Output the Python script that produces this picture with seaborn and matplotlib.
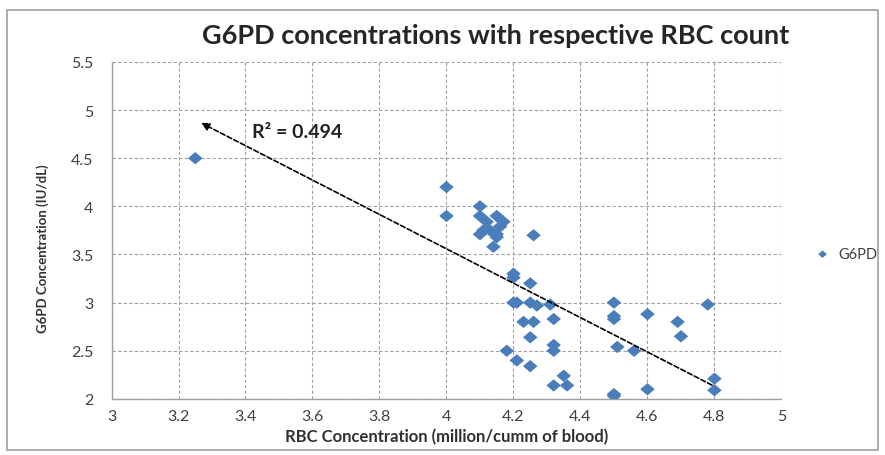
import numpy as np
import pandas as pd
import matplotlib
matplotlib.use('Agg')
import matplotlib.pyplot as plt
from matplotlib.patches import Rectangle
import seaborn as sns

# values
rbc = [3.25,
       4.0, 4.0, 4.1, 4.1, 4.15, 4.12, 4.17, 4.16, 4.11, 4.1, 4.13, 4.15, 4.15, 4.14, 4.26,
       4.2, 4.2, 4.25, 4.2, 4.21, 4.25, 4.27, 4.31, 4.23, 4.26, 4.32, 4.25, 4.32,
       4.18, 4.32, 4.21, 4.25, 4.35, 4.32, 4.36,
       4.5, 4.5, 4.5, 4.6, 4.78, 4.69, 4.7, 4.51, 4.56, 4.8, 4.8, 4.6, 4.5, 4.5]
g6pd = [4.5,
        4.2, 3.9, 4.0, 3.9, 3.9, 3.84, 3.84, 3.79, 3.75, 3.71, 3.75, 3.71, 3.68, 3.58, 3.7,
        3.3, 3.26, 3.2, 3.0, 3.0, 3.0, 2.97, 2.98, 2.8, 2.8, 2.83, 2.64, 2.56,
        2.5, 2.5, 2.4, 2.34, 2.24, 2.14, 2.14,
        3.0, 2.86, 2.83, 2.88, 2.98, 2.8, 2.65, 2.54, 2.5, 2.21, 2.09, 2.1, 2.05, 2.03]

# arrow drawn over the points (tail, head)
arrow_tail = (4.8, 2.13)
arrow_head = (3.26, 4.88)
r2_text = 'R² = 0.494'
r2_pos = (3.42, 4.78)

x_ticks = [3, 3.2, 3.4, 3.6, 3.8, 4, 4.2, 4.4, 4.6, 4.8, 5]
y_ticks = [2, 2.5, 3, 3.5, 4, 4.5, 5, 5.5]

df = pd.DataFrame({'rbc': rbc, 'g6pd': g6pd})

sns.set_style('white')
plt.rcParams['font.family'] = ['Lato', 'DejaVu Sans']

fig = plt.figure(figsize=(8.85, 4.56), dpi=100)
ax = fig.add_axes([0.126, 0.123, 0.757, 0.739])

diamond = [(-1, 0), (0, 0.85), (1, 0), (0, -0.85), (-1, 0)]
sns.scatterplot(data=df, x='rbc', y='g6pd', marker=diamond, s=110,
                color='#4A7EBB', edgecolor='none', label='G6PD', ax=ax, zorder=3)

ax.set_xlim(3, 5)
ax.set_ylim(2, 5.5)
ax.set_xticks(x_ticks)
ax.set_yticks(y_ticks)
ax.set_xticklabels(['{:g}'.format(t) for t in x_ticks])
ax.set_yticklabels(['{:g}'.format(t) for t in y_ticks])
ax.tick_params(axis='both', colors='#888888', labelcolor='#404040', labelsize=11.5,
               length=4, direction='out', width=0.8)
ax.tick_params(axis='y', pad=9)
ax.grid(True, linestyle=(0, (3, 2)), color='#A0A0A0', linewidth=0.8)
for s in ['top', 'right']:
    ax.spines[s].set_visible(False)
for s in ['left', 'bottom']:
    ax.spines[s].set_color('#A0A0A0')
    ax.spines[s].set_linewidth(1.0)

ax.set_xlabel('RBC Concentration (million/cumm of blood)', fontsize=12,
              fontweight='bold', color='#303030', labelpad=3)
ax.set_ylabel('G6PD Concentration (IU/dL)', fontsize=9.5, fontweight='bold',
              color='#303030')
ax.yaxis.set_label_coords(-0.093, 0.45)

ax.annotate('', xy=arrow_head, xytext=arrow_tail,
            arrowprops=dict(arrowstyle='-|>', color='black', lw=1.2,
                            linestyle=(0, (3, 1.5)), mutation_scale=12))
ax.text(r2_pos[0], r2_pos[1], r2_text, fontsize=14, fontweight='bold', color='#202020',
        va='center', ha='left')

leg = ax.legend(loc='center left', bbox_to_anchor=(1.02, 0.43), frameon=False,
                fontsize=10.5, handletextpad=0.1, markerscale=0.6)
for t in leg.get_texts():
    t.set_color('#404040')

fig.suptitle('G6PD concentrations with respective RBC count', fontsize=19.5,
             fontweight='bold', y=0.947, x=0.56)

fig.patches.append(Rectangle((0.008, 0.01), 0.984, 0.965, transform=fig.transFigure,
                             fill=False, edgecolor='#A0A0A0', linewidth=1.2))

fig.savefig('out.png', dpi=100)
